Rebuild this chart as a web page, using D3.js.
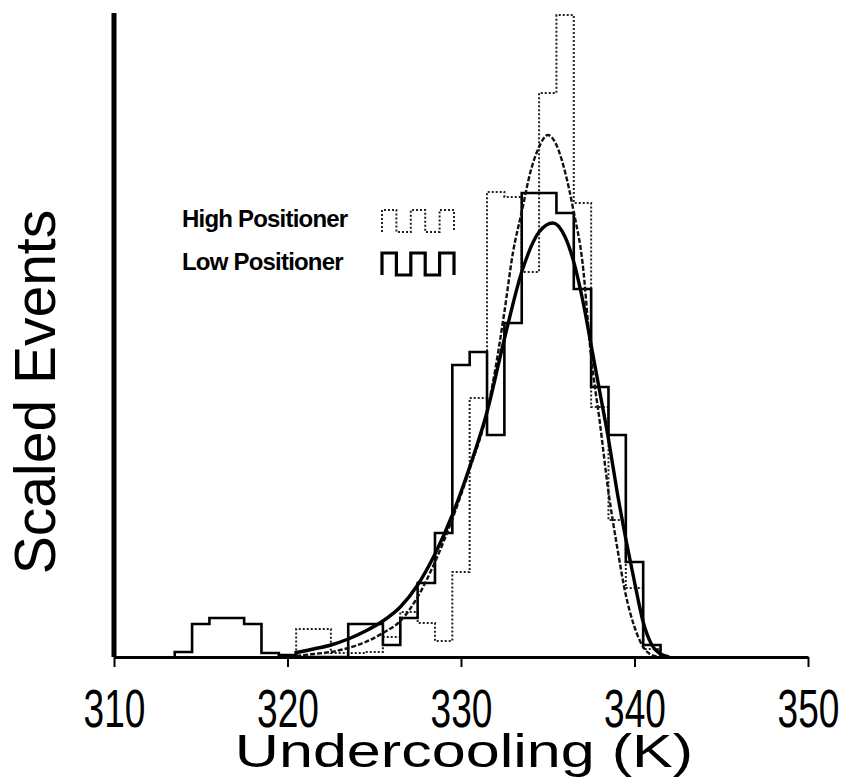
<!DOCTYPE html>
<html>
<head>
<meta charset="utf-8">
<script src="https://cdn.jsdelivr.net/npm/d3@7"></script>
<style>
  body { margin: 0; background: #fff; }
  text { font-family: "Liberation Sans", Arial, sans-serif; fill: #000; }
</style>
</head>
<body>
<div id="container-chart"></div>
<script>
// bins are 1 K wide, left edges
const binStart = [313.5, 314.5, 315.5, 316.5, 317.5, 318.5, 319.5, 320.5, 321.5, 322.5,
                  323.5, 324.5, 325.5, 326.5, 327.5, 328.5, 329.5, 330.5, 331.5, 332.5,
                  333.5, 334.5, 335.5, 336.5, 337.5, 338.5, 339.5, 340.5];
const binWidth = 1;

// scaled events
const lowCounts  = [5, 33, 39, 39, 33, 4, 2, 0, 0, 0,
                    33, 33, 12, 39, 74, 124, 292, 305, 222, 334,
                    464, 464, 444, 368, 270, 222, 95, 12];
const highCounts = [0, 0, 0, 0, 0, 0, 2, 28, 28, 4,
                    4, 5, 20, 45, 34, 16, 85, 259, 465, 460,
                    385, 564, 642, 454, 250, 137, 69, 8];

// fitted curves
const lowFitX  = [320.4, 321.5, 322.5, 323.5, 324.5, 325.5, 326.5, 327.5, 328.5, 329.5,
                  330.5, 331.5, 332.5, 333.5, 334.5, 335.3, 336.0, 336.5, 337.0, 337.5,
                  338.0, 338.5, 339.0, 339.5, 340.0, 340.5, 341.0, 341.5, 342.0];
const lowFitY  = [4, 8, 12, 18, 26, 36, 50, 72, 103, 142,
                  190, 245, 318, 385, 425, 434, 420, 395, 358, 312,
                  265, 218, 165, 118, 75, 35, 12, 3, 0];
const highFitX = [320.5, 321.5, 322.5, 323.5, 324.5, 325.5, 326.5, 327.5, 328.5, 329.5,
                  330.5, 331.5, 332.0, 332.5, 333.0, 333.5, 334.0, 334.5, 335.0, 335.5,
                  336.0, 336.5, 337.0, 337.5, 338.0, 338.5, 339.0, 339.5, 340.0, 340.5,
                  341.0, 341.5];
const highFitY = [1, 3, 5, 9, 15, 24, 36, 60, 95, 138,
                  188, 245, 290, 345, 405, 445, 485, 510, 522, 512,
                  485, 445, 395, 300, 235, 165, 110, 62, 30, 10,
                  2, 0];

const xTicks = [310, 320, 330, 340, 350];
const xLabel = "Undercooling (K)";
const yLabel = "Scaled Events";
const legendNames = ["High Positioner", "Low Positioner"];

const margin = {top: 13, right: 38, bottom: 123, left: 114};
const width = 846 - margin.left - margin.right;
const height = 780 - margin.top - margin.bottom;

const svg = d3.select("#container-chart")
  .append("svg")
  .attr("width", 846)
  .attr("height", 780);

const g = svg.append("g")
  .attr("transform", "translate(" + margin.left + "," + margin.top + ")");

const x = d3.scaleLinear().domain([310, 350]).range([0, width]);
const y = d3.scaleLinear().domain([0, 644]).range([height, 0]);

// histograms as step outlines
const step = d3.line()
  .x(d => x(d[0]))
  .y(d => y(d[1]))
  .curve(d3.curveStepAfter);

function outline(counts) {
  const pts = [[binStart[0], 0]];
  binStart.forEach((b, i) => pts.push([b, counts[i]]));
  pts.push([binStart[binStart.length - 1] + binWidth, 0]);
  return pts;
}

g.append("path")
  .datum(outline(highCounts))
  .attr("fill", "none")
  .attr("stroke", "#222")
  .attr("stroke-width", 2)
  .attr("stroke-dasharray", "2,2")
  .attr("d", step);

g.append("path")
  .datum(outline(lowCounts))
  .attr("fill", "none")
  .attr("stroke", "#000")
  .attr("stroke-width", 2.6)
  .attr("d", step);

// fitted curves
const smooth = d3.line()
  .x(d => x(d[0]))
  .y(d => y(d[1]))
  .curve(d3.curveMonotoneX);

g.append("path")
  .datum(highFitX.map((v, i) => [v, highFitY[i]]))
  .attr("fill", "none")
  .attr("stroke", "#111")
  .attr("stroke-width", 2.4)
  .attr("stroke-dasharray", "5,2")
  .attr("d", smooth);

g.append("path")
  .datum(lowFitX.map((v, i) => [v, lowFitY[i]]))
  .attr("fill", "none")
  .attr("stroke", "#000")
  .attr("stroke-width", 3.4)
  .attr("d", smooth);

// axes
const xAxis = g.append("g")
  .attr("transform", "translate(0," + height + ")")
  .call(d3.axisBottom(x).tickValues(xTicks).tickSize(10).tickSizeOuter(0).tickFormat(d3.format("d")));
xAxis.select(".domain").attr("stroke-width", 3);
xAxis.selectAll(".tick line").attr("stroke-width", 2);
xAxis.selectAll(".tick text")
  .attr("y", 0)
  .attr("dy", 0)
  .attr("font-size", 53)
  .attr("transform", "translate(0,70) scale(0.7,1)");

g.append("line")
  .attr("x1", 0).attr("x2", 0)
  .attr("y1", 0).attr("y2", height)
  .attr("stroke", "#000")
  .attr("stroke-width", 5);

svg.append("text")
  .attr("transform", "translate(464,767) scale(1.3,1)")
  .attr("text-anchor", "middle")
  .attr("font-size", 47)
  .text(xLabel);

svg.append("text")
  .attr("transform", "translate(55,392) rotate(-90)")
  .attr("text-anchor", "middle")
  .attr("font-size", 57)
  .text(yLabel);

// legend
const waveX = d3.scaleLinear().domain([0, 5]).range([0, 72]);
const waveY = d3.scaleLinear().domain([0, 1]).range([22, 0]);
const wavePts = [[0, 0], [0, 1], [1, 0], [2, 1], [3, 0], [4, 1], [5, 0]];
const wave = d3.line().x(d => waveX(d[0])).y(d => waveY(d[1])).curve(d3.curveStepAfter);

const legend = svg.append("g").attr("transform", "translate(182,210)");
legendNames.forEach((name, i) => {
  const row = legend.append("g").attr("transform", "translate(0," + i * 43 + ")");
  row.append("text")
    .attr("x", 0)
    .attr("y", 17)
    .attr("font-size", 24)
    .attr("font-weight", "bold")
    .attr("letter-spacing", -0.8)
    .text(name);
  row.append("path")
    .datum(wavePts)
    .attr("transform", "translate(200,0)")
    .attr("fill", "none")
    .attr("stroke", i === 0 ? "#222" : "#000")
    .attr("stroke-width", i === 0 ? 2 : 3.2)
    .attr("stroke-dasharray", i === 0 ? "2,2" : null)
    .attr("d", wave);
});
</script>
</body>
</html>
